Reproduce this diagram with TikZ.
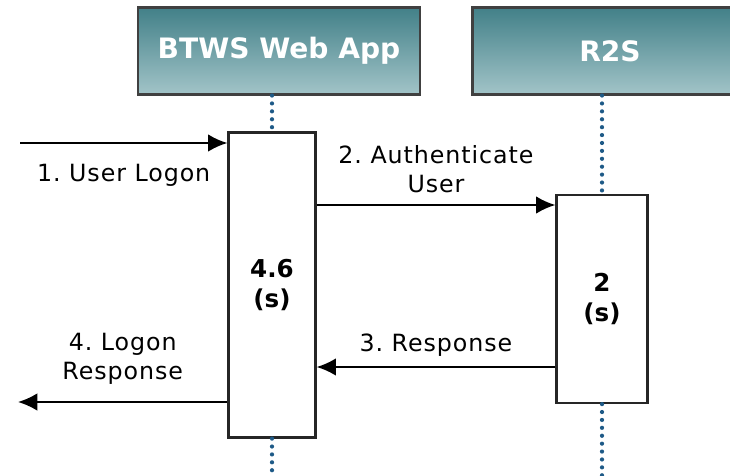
\documentclass[tikz,border=0pt]{standalone}
\usepackage{fontspec}
\setmainfont{DejaVu Sans}
\newfontfamily\labelfont[LetterSpace=4]{DejaVu Sans}
\usepackage{tikz}
\usetikzlibrary{positioning, arrows.meta}
\frenchspacing

\begin{document}
\begin{tikzpicture}[x=0.02cm,y=-0.02cm,semithick,>={Latex[length=11pt,width=10pt]}]

			\tikzstyle{every node}=[font=\labelfont\fontsize{13.5}{16.5}\selectfont]

			\tikzstyle{head box}=[rectangle,draw=black!75,line width=1.2pt,top color={rgb,255:red,66;green,128;blue,136},bottom color={rgb,255:red,162;green,196;blue,200},text=white,font=\fontsize{16}{19}\selectfont\bfseries,minimum height=1.74cm]
			\tikzstyle{act box}=[rectangle,draw=black!85,line width=1.3pt,fill=white,align=center,font=\fontsize{14}{17}\selectfont\bfseries]
			\tikzstyle{life line}=[draw={rgb,255:red,30;green,90;blue,135},line width=2.4pt,line cap=round,dash pattern=on 0pt off 4.5pt]
			\tikzstyle{msg}=[->,line width=1.1pt]

			\useasboundingbox (0,0) rectangle (730,476);

			\node[head box,minimum width=5.64cm] (webapp) at (279,51) {BTWS Web App};
			\node[head box,minimum width=5.5cm]  (rtos) at (610,51) {R2S};

			\node[act box,minimum width=1.74cm,minimum height=6.1cm] (webact) at (272,285) {4.6\\(s)};
			\node[act box,minimum width=1.82cm,minimum height=4.16cm] (rtoact) at (602,299) {2\\(s)};

			% lifelines
			\coordinate (webend) at (272,476);
			\coordinate (rtoend) at (602,476);
			\path[life line] (webapp.south -| webact.north) -- (webact.north);
			\path[life line] (webact.south) -- (webend);
			\path[life line] (rtos.south -| rtoact.north) -- (rtoact.north);
			\path[life line] (rtoact.south) -- (rtoend);

			% messages
			\coordinate (userin) at (20,143);
			\coordinate (userout) at (18,402);
			\draw[msg] (userin) -- (userin -| webact.west) node [midway,below=8pt] {1. User Logon};
			\draw[msg] (webact.east |- 0,205) -- (rtoact.west |- 0,205) node [midway,above=3pt,align=center] {2. Authenticate\\User};
			\draw[msg] (rtoact.west |- 0,367) -- (webact.east |- 0,367) node [midway,above=2pt] {3. Response};
			\draw[msg] (webact.west |- userout) -- (userout) node [midway,above=6pt,align=center] {4. Logon\\Response};

		\end{tikzpicture}
\end{document}
